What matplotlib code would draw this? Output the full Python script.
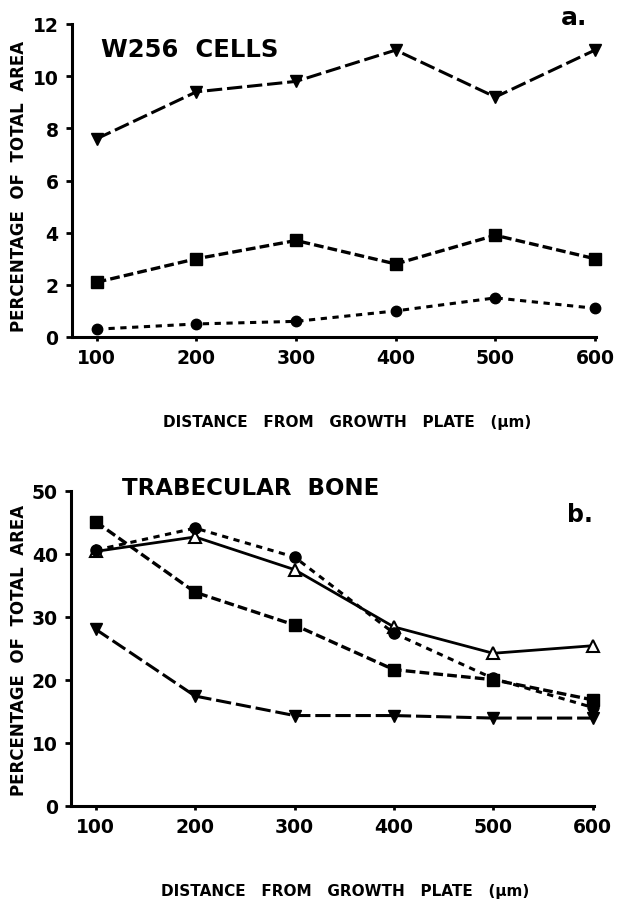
import matplotlib
matplotlib.use("Agg")
import matplotlib.pyplot as plt

# ---------------- data ----------------
distance = [100, 200, 300, 400, 500, 600]

# panel a: W256 cells
a_inv_triangle = [7.6, 9.4, 9.8, 11.0, 9.2, 11.0]
a_square = [2.1, 3.0, 3.7, 2.8, 3.9, 3.0]
a_circle = [0.3, 0.5, 0.6, 1.0, 1.5, 1.1]

# panel b: trabecular bone
b_square = [45.1, 33.9, 28.7, 21.6, 20.0, 16.8]
b_circle = [40.6, 44.1, 39.5, 27.4, 20.2, 15.6]
b_open_triangle = [40.4, 42.7, 37.5, 28.4, 24.2, 25.4]
b_inv_triangle = [28.0, 17.4, 14.3, 14.3, 13.9, 13.9]

a_yticks = [0, 2, 4, 6, 8, 10, 12]
b_yticks = [0, 10, 20, 30, 40, 50]

# ---------------- style ----------------
plt.rcParams['font.family'] = ['DejaVu Sans']
plt.rcParams['font.weight'] = 'bold'
plt.rcParams['lines.scale_dashes'] = False

W, H = 621, 903
fig = plt.figure(figsize=(W / 100, H / 100), dpi=100)
fig.patch.set_facecolor('white')


def px_axes(left, right, top, bottom):
    return fig.add_axes([left / W, 1 - bottom / H, (right - left) / W, (bottom - top) / H])


def style_axes(ax, yticks, ylim):
    ax.set_xlim(75, 601)
    ax.set_ylim(*ylim)
    for s in ['top', 'right']:
        ax.spines[s].set_visible(False)
    for s in ['left', 'bottom']:
        ax.spines[s].set_linewidth(2.2)
    ax.set_xticks(distance)
    ax.set_yticks(yticks)
    ax.tick_params(axis='x', length=3, width=2, pad=5, labelsize=13.5, direction='out')
    ax.tick_params(axis='y', length=4.5, width=2, pad=5, labelsize=13.5, direction='out')
    for lab in ax.get_xticklabels() + ax.get_yticklabels():
        lab.set_fontweight('bold')
    ax.patch.set_alpha(0)


LONG = (11, 3.5)
MED = (7, 3)
SHORT = (4.5, 4)

# ---------------- panel a ----------------
axa = px_axes(71.8, 596, 25, 338)
style_axes(axa, a_yticks, (0, 12))
axa.plot(distance, a_inv_triangle, color='black', lw=2.2, dashes=LONG,
         marker='v', ms=9, clip_on=False)
axa.plot(distance, a_square, color='black', lw=2.4, dashes=MED,
         marker='s', ms=8, clip_on=False)
axa.plot(distance, a_circle, color='black', lw=2.2, dashes=SHORT,
         marker='o', ms=7.5, clip_on=False)

# ---------------- panel b ----------------
axb = px_axes(71, 593.5, 492, 806.5)
style_axes(axb, b_yticks, (0, 50))
axb.plot(distance, b_open_triangle, color='black', lw=2.0, ls='-',
         marker='^', ms=8, mfc='white', mec='black', mew=1.5, clip_on=False, zorder=2)
axb.plot(distance, b_circle, color='black', lw=2.2, dashes=SHORT,
         marker='o', ms=8, clip_on=False, zorder=3)
axb.plot(distance, b_square, color='black', lw=2.4, dashes=MED,
         marker='s', ms=8, clip_on=False, zorder=3)
axb.plot(distance, b_inv_triangle, color='black', lw=2.2, dashes=LONG,
         marker='v', ms=9, clip_on=False, zorder=3)

# ---------------- texts ----------------
def ftext(x, y, s, **kw):
    fig.text(x / W, 1 - y / H, s, **kw)

ftext(101, 57, 'W256  CELLS', fontsize=17.5, fontweight='bold', ha='left', va='baseline')
ftext(122, 495, 'TRABECULAR  BONE', fontsize=16.5, fontweight='bold', ha='left', va='baseline')
ftext(561, 25, 'a.', fontsize=18, fontweight='bold', ha='left', va='baseline')
ftext(567, 522, 'b.', fontsize=17, fontweight='bold', ha='left', va='baseline')

xtitle = 'DISTANCE   FROM   GROWTH   PLATE   (µm)'
ftext(347, 427, xtitle, fontsize=11, fontweight='bold', ha='center', va='baseline')
ftext(345, 896, xtitle, fontsize=11, fontweight='bold', ha='center', va='baseline')

ylab = 'PERCENTAGE  OF  TOTAL  AREA'
ftext(19, 186, ylab, fontsize=12, fontweight='bold', rotation=90, ha='center', va='center')
ftext(19, 650, ylab, fontsize=12, fontweight='bold', rotation=90, ha='center', va='center')

fig.savefig('out.png', dpi=100, facecolor='white')
